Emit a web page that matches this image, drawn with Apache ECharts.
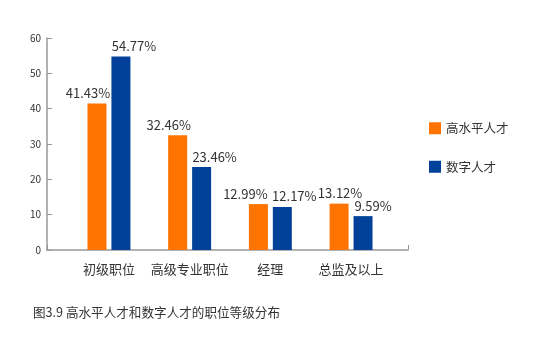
<!DOCTYPE html>
<html><head><meta charset="utf-8">
<script src="https://cdn.jsdelivr.net/npm/echarts@6/dist/echarts.min.js"></script>
<style>html,body{margin:0;padding:0;background:#fff}#c{width:550px;height:344px}</style>
</head><body><div id="c"></div>
<script>
const categories = ['初级职位', '高级专业职位', '经理', '总监及以上'];
const seriesNames = ['高水平人才', '数字人才'];
const highLevel = [41.43, 32.46, 12.99, 13.12];
const digital = [54.77, 23.46, 12.17, 9.59];
const yTicks = [0, 10, 20, 30, 40, 50, 60];
const caption = '图3.9 高水平人才和数字人才的职位等级分布';

// label horizontal shifts (style only)
const shiftHigh = [-9, -9, -13, 1];
const shiftDigital = [13, 13, 12, 10];

const colors = ['#FF7300', '#02419A'];
const font = '"Noto Sans CJK SC", "Noto Sans", sans-serif';

function build(vals, shifts) {
  return vals.map((v, i) => ({ value: v, label: { offset: [shifts[i], 0] } }));
}

const chart = echarts.init(document.getElementById('c'), null, { renderer: 'canvas' });
chart.setOption({
  backgroundColor: '#fff',
  animation: false,
  title: {
    text: caption, left: 28, top: 301,
    textStyle: { fontSize: 12.6, fontWeight: 'normal', color: '#333', fontFamily: font }
  },
  legend: {
    orient: 'vertical', left: 424, top: 117,
    itemWidth: 12, itemHeight: 12, itemGap: 26, icon: 'rect',
    textStyle: { fontSize: 12.5, color: '#333', fontFamily: font },
    data: seriesNames
  },
  grid: [
    { left: 47, right: 142, top: 38, bottom: 94 },
    { left: 68.6, right: 158.6, top: 38, bottom: 94 }
  ],
  xAxis: [
    { gridIndex: 0, type: 'value', min: 0, max: 1, interval: 1,
      axisLine: { show: true, lineStyle: { color: '#999', width: 1.5 } },
      axisTick: { show: true, inside: true, length: 5, lineStyle: { color: '#999' } },
      axisLabel: { show: false }, splitLine: { show: false } },
    { gridIndex: 1, type: 'category', data: categories,
      axisLine: { show: false }, axisTick: { show: false },
      axisLabel: { interval: 0, fontSize: 13, color: '#333', margin: 13, fontFamily: font } }
  ],
  yAxis: [
    { gridIndex: 0, type: 'value', min: yTicks[0], max: yTicks[yTicks.length - 1], interval: 10,
      axisLine: { show: true, lineStyle: { color: '#999', width: 1.5 } },
      axisTick: { show: true, inside: true, length: 5, lineStyle: { color: '#999' } },
      axisLabel: { fontSize: 10, color: '#333', margin: 6, fontFamily: font },
      splitLine: { show: false } },
    { gridIndex: 1, type: 'value', min: 0, max: 60, show: false }
  ],
  series: [
    { name: seriesNames[0], type: 'bar', xAxisIndex: 1, yAxisIndex: 1,
      data: build(highLevel, shiftHigh), barWidth: 19, barGap: '26%',
      itemStyle: { color: colors[0] },
      label: { show: true, position: 'top', distance: 4, formatter: p => p.value.toFixed(2) + '%',
        fontSize: 13, color: '#333', fontFamily: font } },
    { name: seriesNames[1], type: 'bar', xAxisIndex: 1, yAxisIndex: 1,
      data: build(digital, shiftDigital), barWidth: 19, barGap: '26%',
      itemStyle: { color: colors[1] },
      label: { show: true, position: 'top', distance: 4, formatter: p => p.value.toFixed(2) + '%',
        fontSize: 13, color: '#333', fontFamily: font } }
  ]
});
</script></body></html>
